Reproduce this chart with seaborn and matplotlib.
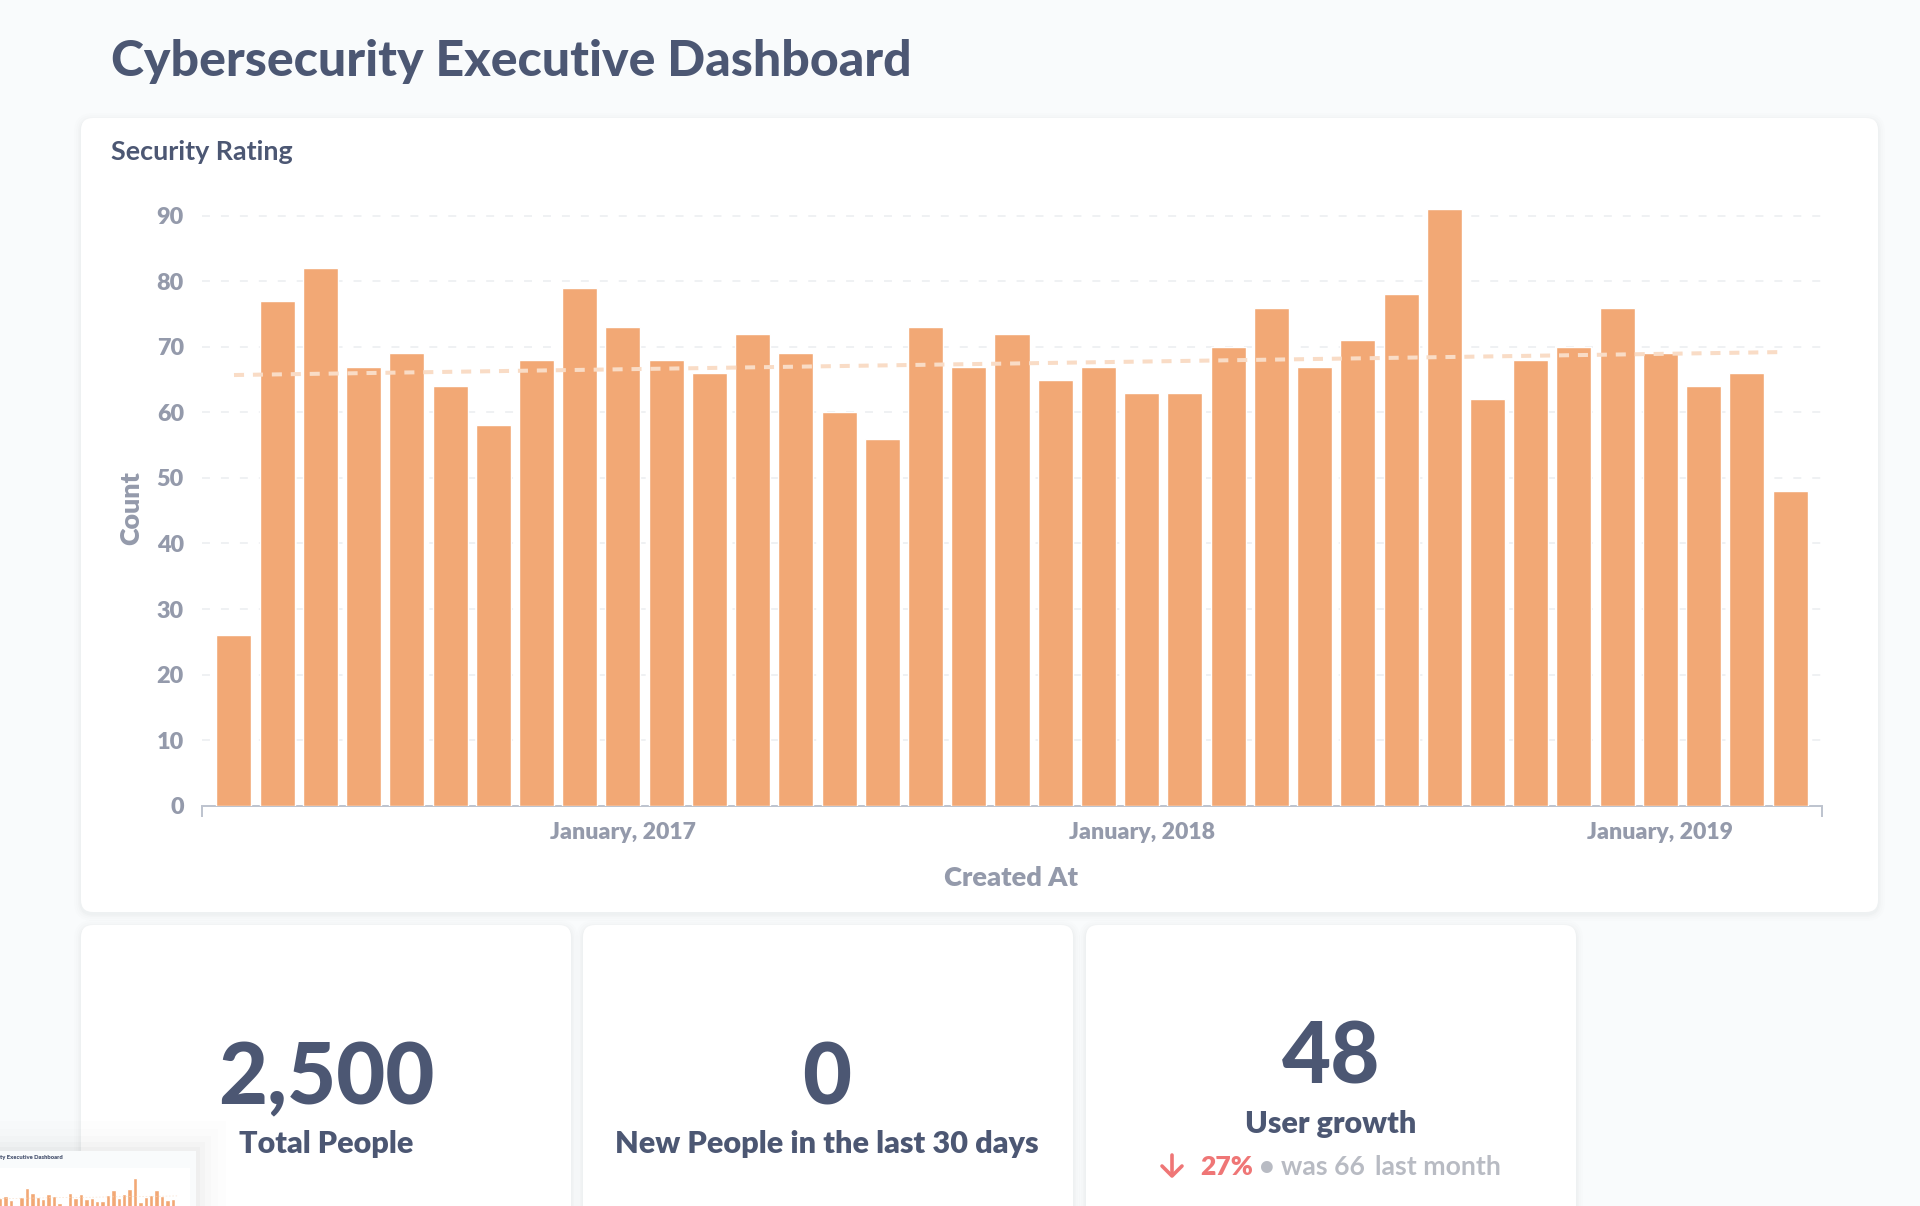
import matplotlib
matplotlib.use("Agg")
import matplotlib.pyplot as plt
from matplotlib.patches import FancyBboxPatch, Rectangle
import pandas as pd
import seaborn as sns

W, H = 1920, 1206

# monthly counts, April 2016 to April 2019
months = pd.date_range("2016-04-01", periods=37, freq="MS").strftime("%Y-%m").tolist()
counts = [26, 77, 82, 67, 69, 64, 58, 68, 79, 73, 68, 66, 72, 69, 60, 56, 73, 67, 72,
          65, 67, 63, 63, 70, 76, 67, 71, 78, 91, 62, 68, 70, 76, 69, 64, 66, 48]
trend_x = [0, 35.8]
trend_values = [65.7, 69.2]
y_ticks = [0, 10, 20, 30, 40, 50, 60, 70, 80, 90]
tick_months = ["2017-01", "2018-01", "2019-01"]
tick_labels = ["January, 2017", "January, 2018", "January, 2019"]

BG = "#F9FBFC"
BAR = "#F2A875"
TREND = "#F9DCC6"
DARK = "#4C5773"
GREY = "#949AAB"
LIGHT = "#B8BBC3"
RED = "#EF7676"

sns.set_theme(style="white")
plt.rcParams["font.family"] = ["Lato", "DejaVu Sans"]
plt.rcParams["font.weight"] = "heavy"

df = pd.DataFrame({"month": months, "count": counts})


def px_axes(fig, x0, y0, x1, y1, **kw):
    # axes placed by pixel box, y measured from the top
    return fig.add_axes([x0 / W, 1 - y1 / H, (x1 - x0) / W, (y1 - y0) / H], **kw)


def card(ax, x0, y0, x1, y1, r=12, zorder=1):
    for grow, alpha in [(7, 0.006), (5, 0.008), (3, 0.012), (1.5, 0.016)]:
        ax.add_patch(FancyBboxPatch((x0 - grow, y0 - grow + 2), x1 - x0 + 2 * grow, y1 - y0 + 2 * grow,
                                    boxstyle=f"round,pad=0,rounding_size={r + grow}",
                                    fc="#2E353B", ec="none", alpha=alpha, zorder=zorder))
    ax.add_patch(FancyBboxPatch((x0, y0), x1 - x0, y1 - y0, boxstyle=f"round,pad=0,rounding_size={r}",
                                fc="white", ec="none", zorder=zorder))


def draw_bars(ax, xlim, ylim, trend_lw, trend_dash, grid_lw, grid_dash):
    sns.barplot(data=df, x="month", y="count", color=BAR, saturation=1, width=0.81, ax=ax, zorder=3)
    ax.set_yticks(y_ticks)
    ax.yaxis.grid(True, color="#EBEDF0", lw=grid_lw, dashes=grid_dash, zorder=0)
    ax.xaxis.grid(False)
    ax.set_axisbelow(True)
    trend = pd.DataFrame({"x": trend_x, "y": trend_values})
    sns.lineplot(data=trend, x="x", y="y", color=TREND, lw=trend_lw, ax=ax, zorder=4, dashes=False,
                 linestyle=(0, trend_dash))
    ax.set_xlim(*xlim)
    ax.set_ylim(*ylim)
    ax.patch.set_alpha(0)


fig = plt.figure(figsize=(W / 100, H / 100), dpi=100, facecolor=BG)

# page layer: cards
page = px_axes(fig, 0, 0, W, H, zorder=0)
page.set_xlim(0, W)
page.set_ylim(H, 0)
page.axis("off")
card(page, 81, 118, 1878, 912)
card(page, 81, 925, 571, 1240)
card(page, 583, 925, 1073, 1240)
card(page, 1086, 925, 1576, 1240)

# main chart
ax = px_axes(fig, 202, 200, 1822, 805.7, zorder=1)
draw_bars(ax, (-0.74, 36.74), (0, 92.4), 2.9, (2.5, 2.2), 1.1, (5.2, 7.2))
sns.despine(ax=ax, left=True)
ax.spines["bottom"].set_color("#BDC3CE")
ax.spines["bottom"].set_linewidth(1.4)
ax.set_xticks([months.index(m) for m in tick_months], tick_labels)
ax.set_xticks(list(ax.get_xlim()), minor=True)
ax.tick_params(axis="x", which="major", length=0, pad=12, labelsize=16.6, labelcolor=GREY)
ax.tick_params(axis="x", which="minor", length=8, width=1.4, color="#BDC3CE", bottom=True)
ax.tick_params(axis="y", length=0, pad=13, labelsize=16.8, labelcolor=GREY)
ax.set_xlabel("")
ax.set_ylabel("")

# text layer
top = px_axes(fig, 0, 0, W, H, zorder=2)
top.set_xlim(0, W)
top.set_ylim(H, 0)
top.axis("off")
top.patch.set_alpha(0)
top.text(111, 62, "Cybersecurity Executive Dashboard", fontsize=36, color=DARK, va="center", fontweight="black")
top.text(111, 152, "Security Rating", fontsize=19.4, color=DARK, va="center", fontweight="bold")
top.text(131, 508, "Count", fontsize=19.4, color=GREY, rotation=90, ha="center", va="center")
top.text(1011, 878, "Created At", fontsize=19.6, color=GREY, ha="center", va="center")

top.text(326, 1080, "2,500", fontsize=61, color=DARK, ha="center", va="center", fontweight="black")
top.text(326, 1144, "Total People", fontsize=22, color=DARK, ha="center", va="center")
top.text(827, 1080, "0", fontsize=61, color=DARK, ha="center", va="center", fontweight="black")
top.text(827, 1144, "New People in the last 30 days", fontsize=22.1, color=DARK, ha="center", va="center")
top.text(1331, 1059, "48", fontsize=61, color=DARK, ha="center", va="center", fontweight="black")
top.text(1331, 1124, "User growth", fontsize=22, color=DARK, ha="center", va="center")

# down arrow
top.plot([1172, 1172], [1155, 1175], color=RED, lw=2.6, solid_capstyle="round")
top.plot([1162, 1172, 1182], [1166, 1176, 1166], color=RED, lw=2.6, solid_capstyle="round")
top.text(1200, 1167, "27%", fontsize=19.2, color=RED, va="center")
top.text(1260, 1167, "•", fontsize=17, color=LIGHT, va="center")
top.text(1281, 1167, "was 66", fontsize=19.2, color=LIGHT, va="center", fontweight="bold")
top.text(1375, 1167, "last month", fontsize=19.2, color=LIGHT, va="center", fontweight="bold")

# small preview thumbnail in the corner
for grow, alpha in [(30, 0.006), (22, 0.008), (15, 0.012), (9, 0.016), (4, 0.02)]:
    top.add_patch(Rectangle((-40, 1151 - grow), 236 + grow, 100 + grow, fc="black", ec="none",
                            alpha=alpha, zorder=5))
top.add_patch(Rectangle((0, 1151), 196, 60, fc=BG, ec="none", zorder=6))
top.add_patch(Rectangle((0, 1168), 190, 40, fc="white", ec="none", zorder=6))
top.text(0, 1158, "ty Executive Dashboard", fontsize=4.2, color=DARK, va="center", zorder=7)

mini = px_axes(fig, 0, 1168, 190, 1206, zorder=3)
draw_bars(mini, (3.0, 38.2), (56.9, 103.3), 0.4, (3, 3), 0.4, (3, 3))
mini.axis("off")

fig.savefig("out.png", dpi=100, facecolor=BG)
